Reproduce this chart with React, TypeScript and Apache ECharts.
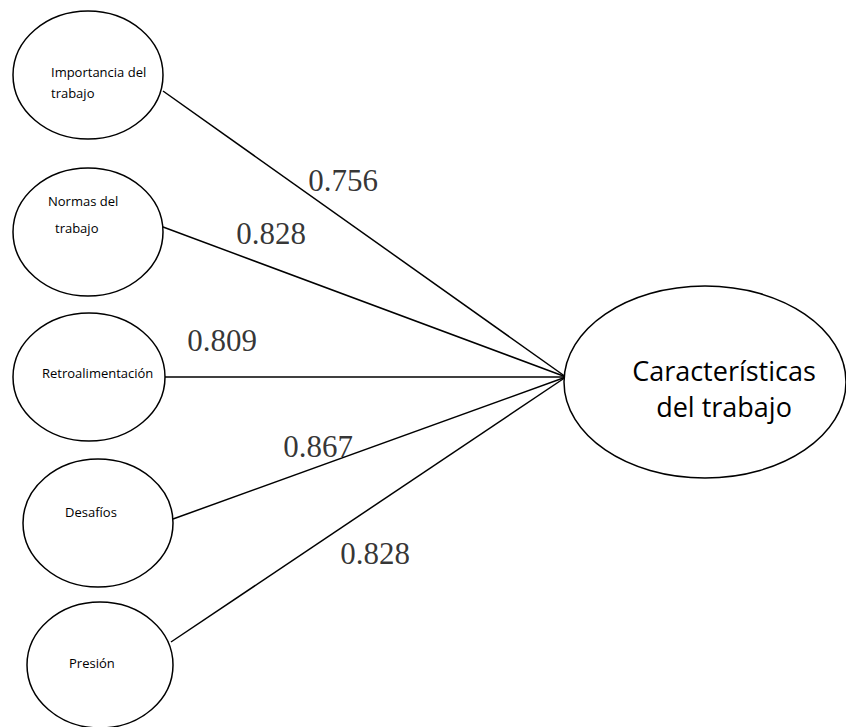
import React, { useEffect, useRef } from "react";
import * as echarts from "echarts";

// Indicator names (lines of text inside each small ellipse)
const indicatorLines: string[][] = [
  ["Importancia del", "trabajo"],
  ["Normas del", "trabajo"],
  ["Retroalimentación"],
  ["Desafíos"],
  ["Presión"],
];
const constructLines: string[] = ["Características", "del trabajo"];
// Standardized loadings
const loadings: number[] = [0.756, 0.828, 0.809, 0.867, 0.828];

// Layout (pixel space of the 846x727 canvas)
const W = 846;
const H = 727;
const smallEllipses = [
  { cx: 88, cy: 75, rx: 75, ry: 64 },
  { cx: 88, cy: 232, rx: 75, ry: 64 },
  { cx: 89, cy: 377, rx: 76, ry: 64 },
  { cx: 98, cy: 523, rx: 75, ry: 64 },
  { cx: 100, cy: 665, rx: 73, ry: 63 },
];
const textPos = [
  [[51, 72], [51, 93]],
  [[48, 201], [55, 228]],
  [[42, 373]],
  [[65, 512]],
  [[69, 663]],
];
const bigEllipse = { cx: 705, cy: 382, rx: 141, ry: 96 };
const bigTextPos = [[724, 370], [724, 406]];
const lineStarts = [
  [163, 91],
  [155, 224],
  [165, 377],
  [173, 519],
  [171, 642],
];
const lineEnd = [566, 377];
const labelPos = [
  [343, 180],
  [271, 233],
  [222, 340],
  [318, 446],
  [375, 553],
];

export default function App() {
  const ref = useRef<HTMLDivElement>(null);
  useEffect(() => {
    document.body.style.margin = "0";
    const chart = echarts.init(ref.current!, null, { renderer: "svg" });

    const ellipseData = [
      ...smallEllipses.map((e, i) => ({
        value: [e.cx, e.cy, e.rx, e.ry],
        lines: indicatorLines[i],
        pos: textPos[i],
        big: false,
      })),
      {
        value: [bigEllipse.cx, bigEllipse.cy, bigEllipse.rx, bigEllipse.ry],
        lines: constructLines,
        pos: bigTextPos,
        big: true,
      },
    ];

    const option: any = {
      animation: false,
      backgroundColor: "#ffffff",
      grid: { left: 0, right: 0, top: 0, bottom: 0 },
      xAxis: { type: "value", min: 0, max: W, show: false },
      yAxis: { type: "value", min: 0, max: H, inverse: true, show: false },
      series: [
        {
          type: "lines",
          coordinateSystem: "cartesian2d",
          silent: true,
          lineStyle: { color: "#000", width: 1.5, opacity: 1 },
          data: lineStarts.map((s) => ({ coords: [s, lineEnd] })),
          z: 1,
        },
        {
          type: "custom",
          coordinateSystem: "cartesian2d",
          silent: true,
          data: ellipseData.map((d) => d.value),
          renderItem: (params: any, api: any) => {
            const d = ellipseData[params.dataIndex];
            const c = api.coord([api.value(0), api.value(1)]);
            const sz = api.size([api.value(2), api.value(3)]);
            const children: any[] = [
              {
                type: "ellipse",
                shape: { cx: c[0], cy: c[1], rx: sz[0], ry: sz[1] },
                style: { fill: "#fff", stroke: "#000", lineWidth: 1.5 },
              },
            ];
            d.lines.forEach((t: string, k: number) => {
              const p = api.coord(d.pos[k]);
              children.push({
                type: "text",
                x: p[0],
                y: p[1],
                style: {
                  text: t,
                  fill: "#000",
                  font: d.big
                    ? "27px 'Open Sans', sans-serif"
                    : "13px 'Open Sans', sans-serif",
                  align: d.big ? "center" : "left",
                  verticalAlign: "middle",
                },
              });
            });
            return { type: "group", children };
          },
          z: 2,
        },
        {
          type: "scatter",
          symbolSize: 0,
          silent: true,
          data: labelPos.map((p) => ({ value: p })),
          label: {
            show: true,
            position: "inside",
            formatter: (p: any) => loadings[p.dataIndex].toFixed(3),
            fontFamily: "'Liberation Serif', 'Times New Roman', serif",
            fontSize: 31,
            color: "#000",
            textBorderWidth: 0,
          },
          z: 3,
        },
      ],
    };
    chart.setOption(option);
    return () => chart.dispose();
  }, []);
  return <div ref={ref} style={{ width: W, height: H }} />;
}
